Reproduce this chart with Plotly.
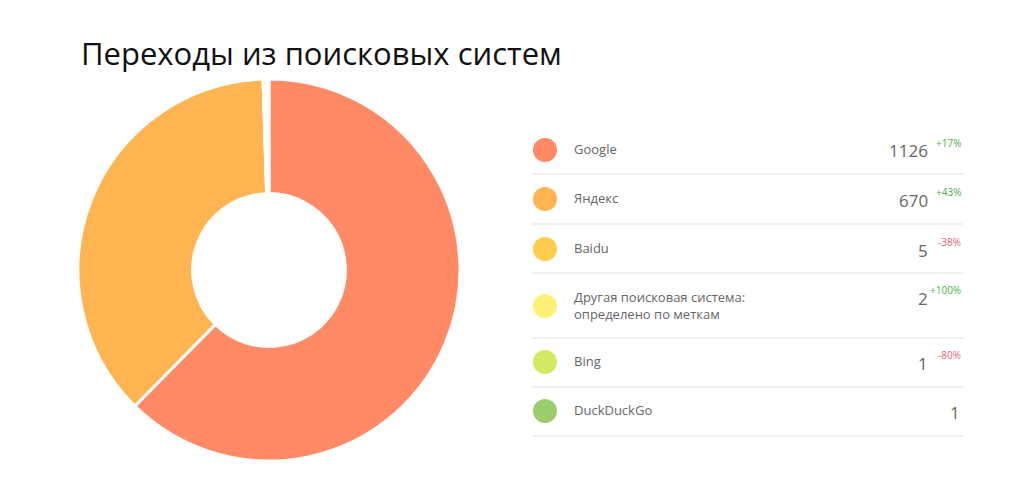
import plotly.graph_objects as go

# Data
engines = ["Google", "Яндекс", "Baidu", "Другая поисковая система:<br>определено по меткам", "Bing", "DuckDuckGo"]
visits = [1126, 670, 5, 2, 1, 1]
changes = ["+17%", "+43%", "-38%", "+100%", "-80%", ""]
colors = ["#FF8A65", "#FFB452", "#FFCC4D", "#FFF176", "#D4E861", "#9CCC6E"]

W, H = 1024, 502
OFF = 8  # page offset

def px(x):
    return (x - OFF) / W

def py(y):
    return 1 - (y - OFF) / H

fig = go.Figure()
fig.add_trace(go.Pie(
    labels=engines, values=visits, hole=0.4, sort=False, direction="clockwise",
    marker=dict(colors=colors, line=dict(color="white", width=3)),
    textinfo="none", showlegend=False,
    domain=dict(x=[px(78), px(460)], y=[py(461), py(79)]),
))

shapes = []
annotations = [dict(text="Переходы из поисковых систем", x=px(79), y=py(53), xref="paper", yref="paper",
                    xanchor="left", yanchor="middle", showarrow=False,
                    font=dict(family="Open Sans", size=31, color="#111"))]

row_y = [150, 199, 249, 306, 362, 411]
sep_y = [174, 224, 273, 338, 387, 436]
for i, name in enumerate(engines):
    y = row_y[i]
    shapes.append(dict(type="circle", xref="paper", yref="paper", x0=px(533), x1=px(557),
                       y0=py(y + 12), y1=py(y - 12), fillcolor=colors[i], line=dict(width=0)))
    shapes.append(dict(type="line", xref="paper", yref="paper", x0=px(532), x1=px(963),
                       y0=py(sep_y[i]), y1=py(sep_y[i]), line=dict(color="#e3e3e3", width=1)))
    annotations.append(dict(text=name, x=px(572), y=py(y - 1), xref="paper", yref="paper",
                            xanchor="left", yanchor="middle", align="left", showarrow=False,
                            font=dict(family="Open Sans", size=13, color="#666")))
    vx = 930 if changes[i] else 962
    vy = row_y[i] + 1 if i != 3 else 298
    annotations.append(dict(text=str(visits[i]), x=px(vx), y=py(vy), xref="paper", yref="paper",
                            xanchor="right", yanchor="middle", showarrow=False,
                            font=dict(family="Open Sans", size=17, color="#666")))
    if changes[i]:
        c = "#4caf50" if changes[i].startswith("+") else "#f06275"
        annotations.append(dict(text=changes[i], x=px(963), y=py(vy - 8), xref="paper", yref="paper",
                                xanchor="right", yanchor="middle", showarrow=False,
                                font=dict(family="Open Sans", size=10, color=c)))

fig.update_layout(width=W, height=H, margin=dict(l=0, r=0, t=0, b=0),
                  paper_bgcolor="white", plot_bgcolor="white",
                  shapes=shapes, annotations=annotations)

fig.write_html("out.html")
